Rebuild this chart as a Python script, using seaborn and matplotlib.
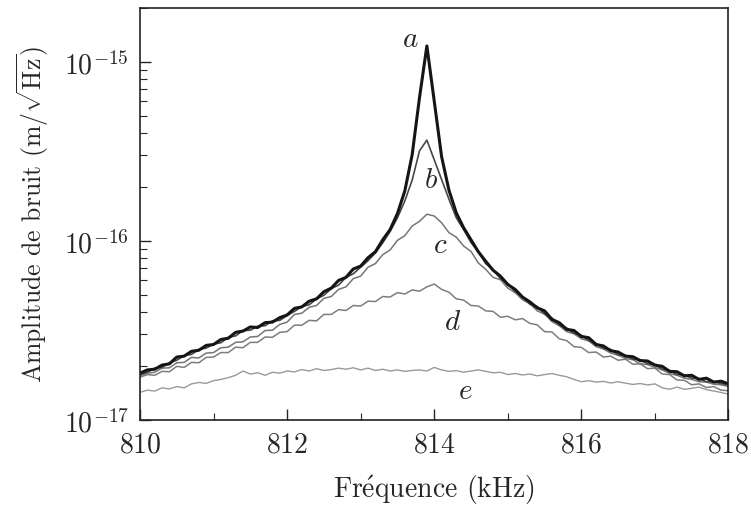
import numpy as np
import pandas as pd
import matplotlib
matplotlib.use("Agg")
import matplotlib.pyplot as plt
import seaborn as sns
from matplotlib.ticker import MultipleLocator, FixedLocator, NullFormatter

# fréquence (kHz), pas de 0.1 kHz
freq = np.round(np.linspace(810, 818, 81), 1)

# log10 de l'amplitude de bruit (m/sqrt(Hz))
log_a = [
    -16.740, -16.722, -16.718, -16.695, -16.688, -16.650, -16.645, -16.618, -16.612, -16.585,
    -16.580, -16.552, -16.545, -16.512, -16.505, -16.482, -16.485, -16.458, -16.455, -16.430,
    -16.415, -16.378, -16.370, -16.338, -16.325, -16.285, -16.265, -16.222, -16.205, -16.158,
    -16.142, -16.095, -16.062, -15.995, -15.938, -15.848, -15.722, -15.520, -15.200, -14.912,
    -15.220, -15.530, -15.718, -15.845, -15.928, -15.995, -16.062, -16.115, -16.165, -16.198,
    -16.245, -16.272, -16.315, -16.342, -16.375, -16.392, -16.440, -16.458, -16.495, -16.502,
    -16.535, -16.542, -16.580, -16.588, -16.615, -16.622, -16.645, -16.648, -16.670, -16.672,
    -16.695, -16.702, -16.730, -16.732, -16.755, -16.752, -16.775, -16.768, -16.790, -16.785,
    -16.800]
log_b = [
    -16.748, -16.735, -16.712, -16.708, -16.682, -16.668, -16.642, -16.635, -16.608, -16.600,
    -16.578, -16.570, -16.540, -16.532, -16.502, -16.500, -16.478, -16.475, -16.448, -16.445,
    -16.418, -16.395, -16.368, -16.358, -16.325, -16.305, -16.268, -16.248, -16.205, -16.185,
    -16.148, -16.112, -16.068, -16.012, -15.948, -15.872, -15.778, -15.662, -15.498, -15.438,
    -15.548, -15.658, -15.768, -15.872, -15.938, -16.010, -16.062, -16.128, -16.162, -16.212,
    -16.240, -16.285, -16.312, -16.355, -16.368, -16.410, -16.432, -16.472, -16.488, -16.518,
    -16.528, -16.558, -16.575, -16.602, -16.608, -16.638, -16.640, -16.662, -16.665, -16.688,
    -16.692, -16.718, -16.725, -16.748, -16.750, -16.768, -16.770, -16.788, -16.788, -16.798,
    -16.805]
log_c = [
    -16.755, -16.740, -16.735, -16.712, -16.710, -16.682, -16.680, -16.652, -16.655, -16.628,
    -16.625, -16.598, -16.595, -16.568, -16.565, -16.538, -16.535, -16.502, -16.500, -16.468,
    -16.455, -16.412, -16.405, -16.372, -16.362, -16.322, -16.312, -16.272, -16.258, -16.212,
    -16.198, -16.148, -16.128, -16.078, -16.052, -15.998, -15.972, -15.918, -15.892, -15.852,
    -15.862, -15.900, -15.955, -15.980, -16.030, -16.060, -16.125, -16.160, -16.205, -16.218,
    -16.265, -16.290, -16.330, -16.352, -16.392, -16.410, -16.452, -16.475, -16.508, -16.520,
    -16.548, -16.560, -16.592, -16.605, -16.628, -16.640, -16.658, -16.665, -16.688, -16.692,
    -16.708, -16.722, -16.742, -16.752, -16.768, -16.775, -16.788, -16.790, -16.802, -16.805,
    -16.815]
log_d = [
    -16.763, -16.748, -16.752, -16.730, -16.732, -16.702, -16.708, -16.680, -16.682, -16.652,
    -16.650, -16.625, -16.625, -16.595, -16.598, -16.568, -16.568, -16.538, -16.540, -16.512,
    -16.508, -16.472, -16.472, -16.445, -16.448, -16.412, -16.412, -16.385, -16.390, -16.362,
    -16.365, -16.338, -16.340, -16.312, -16.315, -16.290, -16.298, -16.275, -16.282, -16.258,
    -16.242, -16.272, -16.288, -16.325, -16.332, -16.362, -16.365, -16.392, -16.395, -16.428,
    -16.422, -16.442, -16.435, -16.462, -16.470, -16.508, -16.510, -16.548, -16.558, -16.592,
    -16.596, -16.625, -16.622, -16.650, -16.645, -16.668, -16.662, -16.690, -16.688, -16.715,
    -16.712, -16.745, -16.748, -16.778, -16.780, -16.805, -16.800, -16.820, -16.815, -16.835,
    -16.838]
log_e = [
    -16.847, -16.835, -16.840, -16.822, -16.828, -16.815, -16.822, -16.800, -16.792, -16.797,
    -16.782, -16.775, -16.765, -16.752, -16.728, -16.745, -16.738, -16.752, -16.735, -16.740,
    -16.728, -16.733, -16.720, -16.728, -16.715, -16.725, -16.720, -16.712, -16.718, -16.710,
    -16.722, -16.712, -16.725, -16.718, -16.728, -16.722, -16.730, -16.725, -16.722, -16.728,
    -16.708, -16.722, -16.730, -16.726, -16.735, -16.728, -16.722, -16.730, -16.738, -16.735,
    -16.748, -16.742, -16.750, -16.745, -16.755, -16.748, -16.742, -16.752, -16.760, -16.775,
    -16.788, -16.782, -16.790, -16.786, -16.795, -16.788, -16.796, -16.803, -16.798, -16.806,
    -16.800, -16.822, -16.830, -16.818, -16.830, -16.825, -16.818, -16.832, -16.840, -16.848,
    -16.857]

curve_names = ["a", "b", "c", "d", "e"]
curve_logs = [log_a, log_b, log_c, log_d, log_e]
for vals in curve_logs:
    assert len(vals) == len(freq)

# position des étiquettes (kHz, m/sqrt(Hz))
label_freq = [813.67, 813.95, 814.08, 814.25, 814.42]
label_amp = [1.34e-15, 2.2e-16, 9.5e-17, 3.5e-17, 1.45e-17]

# graduations de l'axe y
y_major = [1e-17, 1e-16, 1e-15]
y_minor = [m * 10.0 ** p for p in (-17, -16) for m in range(2, 10)] + [2e-15]

df = pd.DataFrame({"freq": np.tile(freq, 5),
                   "amp": 10 ** np.concatenate(curve_logs),
                   "courbe": np.repeat(curve_names, len(freq))})

sns.set_style("ticks")
plt.rcParams['font.family'] = ['cmr10', 'DejaVu Serif']
plt.rcParams['mathtext.fontset'] = 'cm'
plt.rcParams['axes.formatter.use_mathtext'] = True
plt.rcParams['axes.unicode_minus'] = False

styles = {"a": ("#151515", 2.2), "b": ("#474747", 1.2), "c": ("#767676", 1.1),
          "d": ("#7e7e7e", 1.1), "e": ("#9a9a9a", 1.0)}

fig, ax = plt.subplots(figsize=(7.51, 5.06), dpi=100)
fig.subplots_adjust(left=0.1864, right=0.970, bottom=0.1686, top=0.9826)

for name in ["e", "d", "c", "b", "a"]:
    col, lw = styles[name]
    sns.lineplot(data=df[df["courbe"] == name], x="freq", y="amp", ax=ax,
                 color=col, linewidth=lw, estimator=None, sort=False)

for name, fx, fy in zip(curve_names, label_freq, label_amp):
    ax.text(fx, fy, "$%s$" % name, fontsize=21, ha="center", va="center")

ax.set_yscale("log")
ax.set_xlim(810, 818)
ax.set_ylim(1e-17, 2e-15)
ax.xaxis.set_major_locator(MultipleLocator(2))
ax.xaxis.set_minor_locator(MultipleLocator(1))
ax.yaxis.set_major_locator(FixedLocator(y_major))
ax.yaxis.set_minor_locator(FixedLocator(y_minor))
ax.yaxis.set_minor_formatter(NullFormatter())

ax.tick_params(which="both", direction="in", top=False, right=False, labelsize=20)
ax.tick_params(which="major", length=8, width=1.0, pad=8)
ax.tick_params(which="minor", length=5, width=0.8)
for sp in ax.spines.values():
    sp.set_linewidth(1.2)
    sp.set_color("#222222")

ax.set_xlabel(r"Fr$\mathrm{\acute{e}}$quence (kHz)", fontsize=20, labelpad=11)
ax.set_ylabel(r"Amplitude de bruit (m/$\sqrt{\mathrm{Hz}}$)", fontsize=18.5, labelpad=9)
ax.grid(False)

fig.savefig("out.png", dpi=100)
